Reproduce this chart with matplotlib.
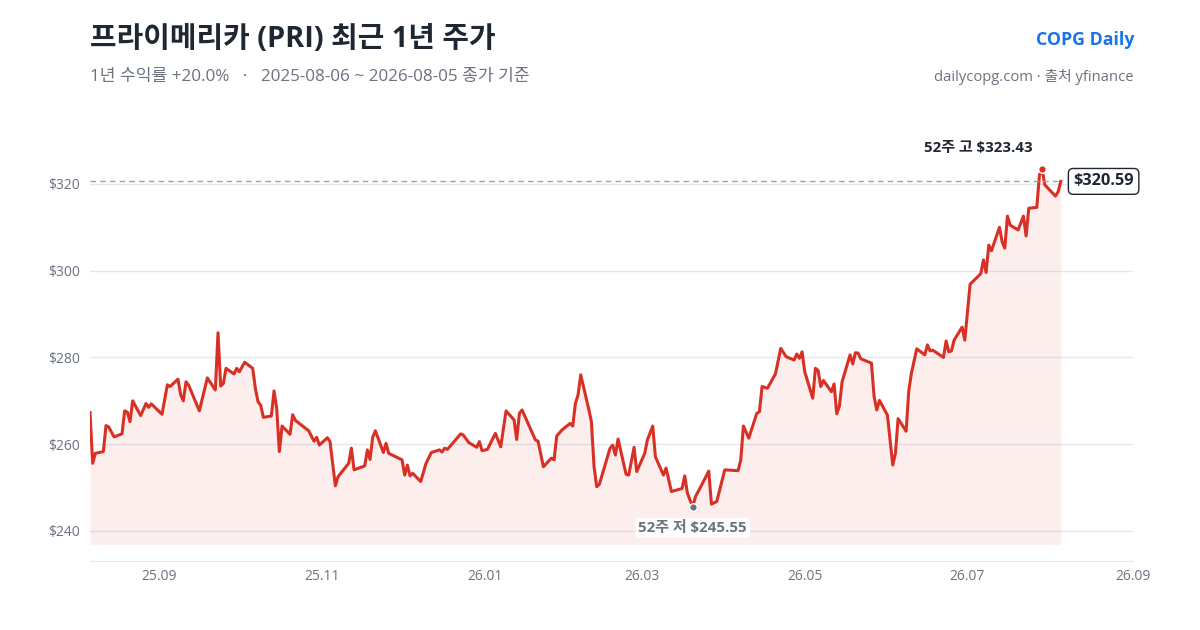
import matplotlib
matplotlib.use("Agg")
import matplotlib.pyplot as plt
import matplotlib.dates as mdates
import pandas as pd

plt.rcParams["font.family"] = ["Open Sans", "Noto Sans CJK KR", "DejaVu Sans"]

# closing prices
dates = [
    "2025-08-06", "2025-08-07", "2025-08-08", "2025-08-11", "2025-08-12", "2025-08-13",
    "2025-08-15", "2025-08-18", "2025-08-19", "2025-08-20", "2025-08-21", "2025-08-22",
    "2025-08-25", "2025-08-27", "2025-08-28", "2025-08-29", "2025-09-02", "2025-09-04",
    "2025-09-05", "2025-09-08", "2025-09-09", "2025-09-10", "2025-09-11", "2025-09-12",
    "2025-09-16", "2025-09-17", "2025-09-19", "2025-09-22", "2025-09-23", "2025-09-24",
    "2025-09-25", "2025-09-26", "2025-09-29", "2025-09-30", "2025-10-01", "2025-10-03",
    "2025-10-06", "2025-10-07", "2025-10-08", "2025-10-09", "2025-10-10", "2025-10-13",
    "2025-10-14", "2025-10-15", "2025-10-16", "2025-10-17", "2025-10-20", "2025-10-21",
    "2025-10-22", "2025-10-27", "2025-10-29", "2025-10-30", "2025-10-31", "2025-11-03",
    "2025-11-04", "2025-11-06", "2025-11-07", "2025-11-11", "2025-11-12", "2025-11-13",
    "2025-11-17", "2025-11-18", "2025-11-19", "2025-11-20", "2025-11-21", "2025-11-24",
    "2025-11-25", "2025-11-26", "2025-12-01", "2025-12-02", "2025-12-03", "2025-12-04",
    "2025-12-05", "2025-12-08", "2025-12-10", "2025-12-12", "2025-12-15", "2025-12-16",
    "2025-12-17", "2025-12-18", "2025-12-23", "2025-12-24", "2025-12-26", "2025-12-29",
    "2025-12-30", "2025-12-31", "2026-01-02", "2026-01-05", "2026-01-07", "2026-01-09",
    "2026-01-12", "2026-01-13", "2026-01-14", "2026-01-15", "2026-01-20", "2026-01-21",
    "2026-01-23", "2026-01-26", "2026-01-27", "2026-01-28", "2026-01-30", "2026-02-02",
    "2026-02-03", "2026-02-04", "2026-02-05", "2026-02-06", "2026-02-09", "2026-02-10",
    "2026-02-11", "2026-02-12", "2026-02-13", "2026-02-17", "2026-02-18", "2026-02-19",
    "2026-02-20", "2026-02-23", "2026-02-24", "2026-02-26", "2026-02-27", "2026-03-02",
    "2026-03-03", "2026-03-05", "2026-03-06", "2026-03-09", "2026-03-10", "2026-03-12",
    "2026-03-16", "2026-03-17", "2026-03-18", "2026-03-20", "2026-03-21", "2026-03-23",
    "2026-03-26", "2026-03-27", "2026-03-29", "2026-04-01", "2026-04-06", "2026-04-07",
    "2026-04-08", "2026-04-10", "2026-04-13", "2026-04-14", "2026-04-15", "2026-04-17",
    "2026-04-20", "2026-04-22", "2026-04-24", "2026-04-27", "2026-04-28", "2026-04-29",
    "2026-04-30", "2026-05-01", "2026-05-04", "2026-05-05", "2026-05-06", "2026-05-07",
    "2026-05-08", "2026-05-11", "2026-05-12", "2026-05-13", "2026-05-14", "2026-05-15",
    "2026-05-18", "2026-05-19", "2026-05-20", "2026-05-21", "2026-05-22", "2026-05-26",
    "2026-05-27", "2026-05-28", "2026-05-29", "2026-06-01", "2026-06-03", "2026-06-04",
    "2026-06-05", "2026-06-08", "2026-06-09", "2026-06-10", "2026-06-12", "2026-06-15",
    "2026-06-16", "2026-06-17", "2026-06-18", "2026-06-22", "2026-06-23", "2026-06-24",
    "2026-06-25", "2026-06-26", "2026-06-29", "2026-06-30", "2026-07-02", "2026-07-06",
    "2026-07-07", "2026-07-08", "2026-07-09", "2026-07-10", "2026-07-13", "2026-07-14",
    "2026-07-15", "2026-07-16", "2026-07-17", "2026-07-20", "2026-07-22", "2026-07-23",
    "2026-07-24", "2026-07-27", "2026-07-28", "2026-07-29", "2026-07-30", "2026-08-03",
    "2026-08-04", "2026-08-05",
]
prices = [
    267.3, 255.6, 257.9, 258.3, 264.3, 264.0,
    261.7, 262.4, 267.7, 267.4, 265.2, 270.0,
    266.6, 269.4, 268.5, 269.3, 266.9, 273.7,
    273.3, 275.0, 271.4, 270.0, 274.4, 273.6,
    267.7, 270.2, 275.3, 272.5, 285.7, 273.4,
    274.0, 277.5, 276.2, 277.5, 276.7, 278.9,
    277.5, 272.9, 269.8, 269.0, 266.2, 266.5,
    272.3, 268.3, 258.3, 264.2, 262.3, 266.8,
    265.5, 263.1, 260.7, 261.6, 259.8, 261.5,
    260.6, 250.4, 252.5, 255.6, 259.1, 254.1,
    255.0, 258.7, 256.5, 261.6, 263.1, 258.1,
    260.2, 257.9, 256.4, 252.9, 255.2, 252.7,
    253.3, 251.4, 255.6, 258.1, 258.7, 258.2,
    259.1, 258.8, 262.4, 262.1, 260.4, 259.3,
    260.6, 258.5, 258.8, 262.5, 259.4, 267.7,
    265.6, 261.1, 267.1, 267.9, 261.0, 260.7,
    254.8, 256.8, 256.4, 261.9, 263.3, 264.8,
    264.2, 269.4, 271.4, 276.0, 268.1, 265.2,
    254.8, 250.2, 250.8, 259.1, 259.8, 257.5,
    261.2, 253.1, 252.9, 259.3, 253.7, 257.9,
    261.0, 264.2, 257.1, 252.9, 254.5, 249.1,
    249.8, 252.7, 248.7, 245.55, 247.9, 250.2,
    253.8, 246.2, 246.8, 254.1, 253.9, 256.4,
    264.2, 261.4, 267.1, 267.5, 273.3, 272.9,
    276.2, 282.1, 280.2, 279.4, 280.8, 279.8,
    281.3, 276.7, 270.6, 277.5, 277.0, 273.3,
    274.7, 272.1, 273.9, 267.0, 268.8, 274.4,
    280.6, 278.5, 281.1, 281.0, 279.7, 278.7,
    271.0, 267.9, 270.1, 266.7, 255.2, 257.9,
    265.9, 263.0, 272.3, 276.4, 282.0, 280.6,
    282.9, 281.5, 281.7, 280.0, 283.8, 281.3,
    281.5, 284.0, 287.0, 284.0, 296.9, 299.3,
    302.5, 299.6, 305.9, 304.6, 310.0, 306.7,
    305.2, 312.6, 310.5, 309.4, 312.6, 308.0,
    314.4, 314.6, 322.1, 323.43, 319.8, 317.2,
    318.2, 320.59,
]

tick_dates = ["2025-09-01", "2025-11-01", "2026-01-01", "2026-03-01",
              "2026-05-01", "2026-07-01", "2026-09-01"]
y_ticks = [240, 260, 280, 300, 320]

title = "프라이메리카 (PRI) 최근 1년 주가"
subtitle = "1년 수익률 +20.0%   ·   2025-08-06 ~ 2026-08-05 종가 기준"
brand = "COPG Daily"
source = "dailycopg.com · 출처 yfinance"

x = pd.to_datetime(dates)
s = pd.Series(prices, index=x)
hi_date, hi_val = s.idxmax(), s.max()
lo_date, lo_val = s.idxmin(), s.min()
last_date, last_val = x[-1], prices[-1]
x_start, x_end = pd.Timestamp("2025-08-06"), pd.Timestamp("2026-09-01")

red = "#d93025"
grey = "#6b7280"
dark = "#1f2733"

fig = plt.figure(figsize=(12, 6.3), dpi=100)
ax = fig.add_axes([0.075, 0.1095, 0.869, 0.708])

ax.fill_between(x, prices, 236.9, color=red, alpha=0.08, linewidth=0)
ax.plot(x, prices, color=red, linewidth=2.2, solid_joinstyle="round")
ax.hlines(last_val, x_start, last_date, color="#9ca3af",
          linestyle=(0, (4, 3)), linewidth=1)

ax.scatter([hi_date], [hi_val], s=30, color=red, zorder=5, edgecolor="white", linewidth=1)
ax.scatter([lo_date], [lo_val], s=30, color=grey, zorder=5, edgecolor="white", linewidth=1)
ax.annotate(f"52주 고 ${hi_val:.2f}", (hi_date, hi_val), xytext=(-46, 10),
            textcoords="offset points", ha="center", va="bottom",
            fontsize=10.8, fontweight="bold", color=dark)
ax.annotate(f"52주 저 ${lo_val:.2f}", (lo_date, lo_val), xytext=(0, -10),
            textcoords="offset points", ha="center", va="top",
            fontsize=10.8, fontweight="bold", color=grey,
            bbox=dict(boxstyle="round,pad=0.2", fc="white", ec="none", alpha=0.9))
ax.annotate(f"${last_val:.2f}", (last_date, last_val), xytext=(9, 0),
            textcoords="offset points", ha="left", va="center",
            fontsize=11.8, fontweight="bold", color=dark, annotation_clip=False,
            bbox=dict(boxstyle="round,pad=0.3", fc="white", ec=dark, lw=1))

ax.set_xlim(x_start, x_end)
ax.set_ylim(233.08, 335.9)
ax.set_xticks(pd.to_datetime(tick_dates))
ax.xaxis.set_major_formatter(mdates.DateFormatter("%y.%m"))
ax.set_yticks(y_ticks)
ax.set_yticklabels([f"${v}" for v in y_ticks])
ax.tick_params(axis="both", length=0, labelsize=10, colors=grey)
ax.tick_params(axis="x", pad=6)
ax.tick_params(axis="y", pad=7)
ax.grid(axis="y", color="#e5e7eb", linewidth=1)
ax.set_axisbelow(True)
for side in ["top", "right", "left"]:
    ax.spines[side].set_visible(False)
ax.spines["bottom"].set_color("#e5e7eb")

fig.text(0.075, 0.938, title, fontsize=20.8, fontweight="bold", color=dark, va="center")
fig.text(0.075, 0.878, subtitle, fontsize=12.3, color=grey, va="center")
fig.text(0.945, 0.936, brand, fontsize=12.8, fontweight="bold", color="#1a73e8", ha="right", va="center")
fig.text(0.945, 0.878, source, fontsize=10.6, color=grey, ha="right", va="center")

fig.savefig("out.png", dpi=100, facecolor="white")
